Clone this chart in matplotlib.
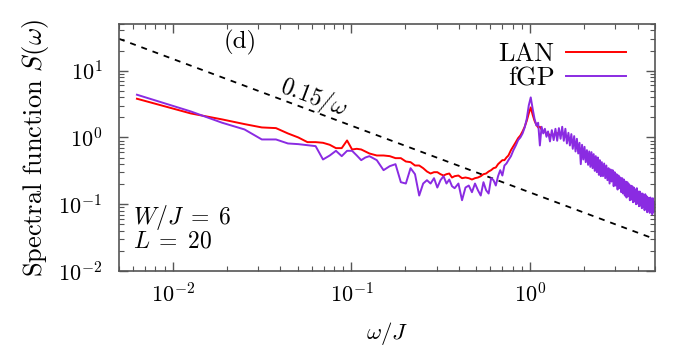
import numpy as np
import matplotlib
matplotlib.use('Agg')
import matplotlib.pyplot as plt
from matplotlib.ticker import LogLocator, NullFormatter

plt.rcParams['font.family'] = 'serif'
plt.rcParams['font.serif'] = ['cmr10', 'DejaVu Serif']
plt.rcParams['mathtext.fontset'] = 'cm'
plt.rcParams['axes.formatter.use_mathtext'] = True

# frequency grid: omega = dw * k
dw = 0.0063
k_idx = np.concatenate([np.arange(1, 21), np.arange(22, 61, 2), np.arange(63, 121, 3),
                        np.arange(124, 201, 4), np.arange(205, 401, 5), np.arange(406, 791, 6)])
omega = dw * k_idx

# log10 S(omega)
log_s_lan = [
    0.58, 0.36, 0.27, 0.20, 0.15, 0.14, 0.06, 0.00, -0.07, -0.07,
    -0.08, -0.11, -0.16, -0.16, -0.045, -0.18, -0.17, -0.18, -0.21, -0.24,
    -0.27, -0.27, -0.28, -0.31, -0.31, -0.36, -0.37, -0.42, -0.42, -0.46,
    -0.51, -0.54, -0.52, -0.52, -0.55, -0.57, -0.55, -0.54, -0.60, -0.58,
    -0.57, -0.61, -0.60, -0.61, -0.63, -0.61, -0.60, -0.58, -0.55, -0.54,
    -0.51, -0.49, -0.46, -0.45, -0.40, -0.37, -0.34, -0.34, -0.30, -0.27,
    -0.19, -0.13, -0.07, -0.01, 0.03, 0.09, 0.16, 0.25, 0.36, 0.45,
    0.34, 0.25, 0.19, 0.15, 0.16, 0.12, 0.09, 0.10, 0.04, 0.06,
    0.03, 0.04, 0.04, 0.06, 0.06, 0.07, 0.06, 0.07, 0.04, 0.03,
    0.00, -0.01, -0.04, -0.06, -0.07, -0.09, -0.12, -0.13, -0.15, -0.16,
    -0.19, -0.21, -0.22, -0.24, -0.25, -0.27, -0.28, -0.30, -0.31, -0.33,
    -0.34, -0.36, -0.37, -0.39, -0.40, -0.40, -0.42, -0.43, -0.45, -0.46,
    -0.51, -0.49, -0.54, -0.52, -0.55, -0.57, -0.57, -0.60, -0.58, -0.61,
    -0.63, -0.64, -0.63, -0.67, -0.66, -0.69, -0.70, -0.69, -0.72, -0.73,
    -0.75, -0.73, -0.76, -0.78, -0.76, -0.79, -0.81, -0.79, -0.82, -0.84,
    -0.82, -0.85, -0.87, -0.85, -0.88, -0.87, -0.88, -0.90, -0.88, -0.91,
    -0.90, -0.93, -0.91, -0.94, -0.93, -0.96, -0.94, -0.97, -0.96, -0.99,
    -0.97, -0.99, -1.00, -0.99, -1.01, -1.00, -1.01, -1.03, -1.00, -1.03,
    -1.01, -1.04, -1.03, -1.04, -1.01,
]
log_s_fgp = [
    0.64, 0.39, 0.22, 0.12, -0.03, -0.03, -0.09, -0.10, -0.115, -0.13,
    -0.33, -0.27, -0.20, -0.28, -0.20, -0.20, -0.27, -0.34, -0.30, -0.28,
    -0.34, -0.49, -0.43, -0.40, -0.67, -0.69, -0.46, -0.55, -0.87, -0.69,
    -0.64, -0.69, -0.61, -0.75, -0.64, -0.58, -0.69, -0.63, -0.73, -0.76,
    -0.69, -0.94, -0.75, -0.72, -0.82, -0.69, -0.79, -0.87, -0.67, -0.79,
    -0.84, -0.61, -0.64, -0.72, -0.58, -0.49, -0.57, -0.42, -0.39, -0.34,
    -0.28, -0.19, -0.12, -0.04, 0.00, 0.06, 0.15, 0.28, 0.48, 0.60,
    0.43, 0.28, 0.18, 0.22, -0.12, 0.16, 0.06, 0.13, 0.01, 0.09,
    -0.06, 0.11, -0.04, 0.13, -0.05, 0.14, -0.02, 0.16, -0.05, 0.13,
    -0.09, 0.07, -0.12, 0.05, -0.17, 0.02, -0.21, -0.02, -0.24, -0.08,
    -0.40, -0.11, -0.33, -0.14, -0.37, -0.19, -0.41, -0.21, -0.44, -0.22,
    -0.46, -0.25, -0.50, -0.28, -0.52, -0.30, -0.56, -0.34, -0.58, -0.37,
    -0.58, -0.39, -0.61, -0.42, -0.64, -0.46, -0.69, -0.48, -0.66, -0.49,
    -0.73, -0.52, -0.72, -0.55, -0.78, -0.57, -0.76, -0.60, -0.82, -0.61,
    -0.84, -0.63, -0.87, -0.66, -0.90, -0.67, -0.88, -0.70, -0.94, -0.72,
    -0.93, -0.73, -0.97, -0.75, -0.96, -0.78, -1.00, -0.76, -0.99, -0.81,
    -1.03, -0.81, -1.02, -0.84, -1.06, -0.84, -1.04, -0.87, -1.09, -0.85,
    -1.07, -0.88, -1.12, -0.90, -1.09, -0.91, -1.13, -0.90, -1.10, -0.93,
    -1.15, -0.91, -1.12, -0.96, -1.10,
]
s_lan = 10.0 ** np.array(log_s_lan)
s_fgp = 10.0 ** np.array(log_s_fgp)

coef = 0.15  # guide line coef/omega
w_min, w_max = 0.005, 5.0
w_line = np.array([w_min, w_max])

fig = plt.figure(figsize=(6.98, 3.49), dpi=100)
ax = fig.add_axes([0.1705, 0.2235, 0.7679, 0.7077])

ax.plot(w_line, coef / w_line, color='black', lw=1.3, linestyle=(0, (3.3, 3.3)))
ax.plot(omega, s_lan, color='#ff0000', lw=1.4, label='LAN')
ax.plot(omega, s_fgp, color='#8a2be2', lw=1.4, label='fGP')

ax.set_xscale('log')
ax.set_yscale('log')
ax.set_xlim(w_min, w_max)
ax.set_ylim(0.01, 50)

ax.xaxis.set_major_locator(LogLocator(base=10, numticks=10))
ax.xaxis.set_minor_locator(LogLocator(base=10, subs=np.arange(2, 10), numticks=20))
ax.yaxis.set_major_locator(LogLocator(base=10, numticks=10))
ax.yaxis.set_minor_locator(LogLocator(base=10, subs=np.arange(2, 10), numticks=20))
ax.xaxis.set_minor_formatter(NullFormatter())
ax.yaxis.set_minor_formatter(NullFormatter())

for sp in ax.spines.values():
    sp.set_color('#555555')
    sp.set_linewidth(1.2)
ax.tick_params(which='both', direction='in', top=True, right=True, color='#555555')
ax.tick_params(which='major', length=6.5, width=1.0, labelsize=16)
ax.tick_params(which='minor', length=3.5, width=0.8)
ax.tick_params(axis='y', which='major', pad=12)
ax.tick_params(axis='x', which='major', pad=8)

ax.set_xlabel(r'$\omega/J$', fontsize=16.5, labelpad=10)
ax.set_ylabel(r'Spectral function $S(\omega)$', fontsize=19, labelpad=5)

ax.text(0.226, 0.927, '(d)', transform=ax.transAxes, fontsize=18, ha='center', va='center')
ax.text(0.364, 0.700, r'$\mathit{0.15}/\omega$', transform=ax.transAxes, fontsize=17,
        ha='center', va='center', rotation=-20.6)
ax.text(0.026, 0.175, '$W/J\\;=\\;6$\n$L\\;=\\;20$', transform=ax.transAxes, fontsize=17,
        ha='left', va='center', linespacing=0.85)

ax.legend(loc='upper right', bbox_to_anchor=(0.985, 1.01), frameon=False, markerfirst=False,
          fontsize=19, handlelength=2.25, handletextpad=0.45, labelspacing=0.0, borderpad=0.3)

fig.savefig('out.png', dpi=100)
